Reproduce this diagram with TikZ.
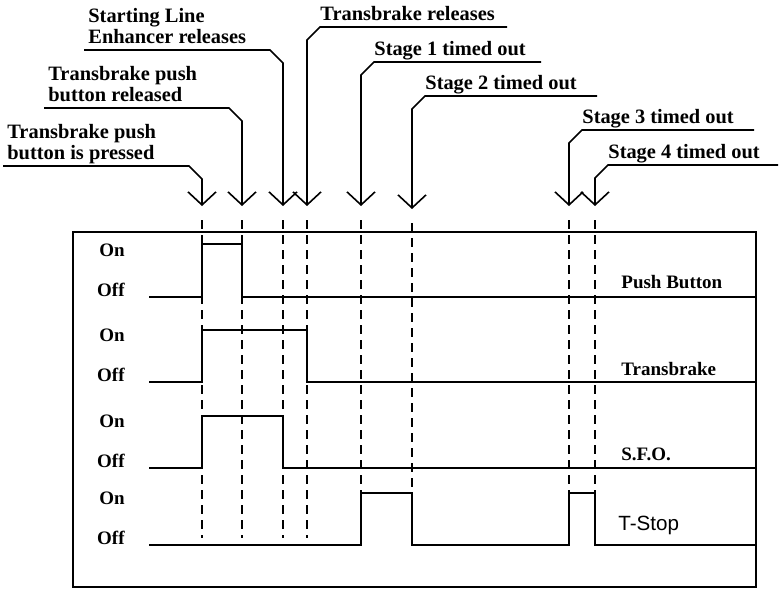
\documentclass[tikz,border=0pt]{standalone}
\usepackage{fontspec}
\setmainfont{Liberation Serif}
\setsansfont{Liberation Sans}
\usetikzlibrary{arrows.meta,calc}

\begin{document}
\begin{tikzpicture}[x=0.5pt,y=-0.5pt,
    event/.style = {font=\fontsize{10.2}{10.5}\selectfont\bfseries,align=left,inner sep=0pt,anchor=south west},
    leader/.style = {line width=0.8pt,-{Straight Barb[length=6.5pt,width=14pt]}},
    guide/.style = {line width=1pt,dash pattern=on 4.5pt off 3pt},
    trace/.style = {line width=1pt},
    level/.style = {font=\fontsize{9.5}{10}\selectfont\bfseries,anchor=base east,inner sep=0pt},
    signame/.style = {font=\fontsize{9.5}{10}\selectfont\bfseries,anchor=base west,inner sep=0pt}]

        \useasboundingbox (0,0) rectangle (780,589);

        % Arrow tips of the events
        \coordinate (e1) at (202,206);
        \coordinate (e2) at (242,206);
        \coordinate (e3) at (283,206);
        \coordinate (e4) at (307,206);
        \coordinate (e5) at (361,206);
        \coordinate (e6) at (412,209);
        \coordinate (e7) at (569,206);
        \coordinate (e8) at (595,206);
        \coordinate (lowA) at (0,538);
        \coordinate (lowB) at (0,493);

        % Event labels, left side
        \node[event] (t1) at (7,166) {Transbrake push\\button is pressed\strut};
        \node[event] (t2) at (48,108) {Transbrake push\\button released\strut};
        \node[event] (t3) at (88,50) {Starting Line\\Enhancer releases\strut};

        % Event labels, right side
        \node[event] (t4) at (320,27) {Transbrake releases\strut};
        \node[event] (t5) at (374,62) {Stage 1 timed out\strut};
        \node[event] (t6) at (425,96) {Stage 2 timed out\strut};
        \node[event] (t7) at (582,130) {Stage 3 timed out\strut};
        \node[event] (t8) at (608,165) {Stage 4 timed out\strut};

        % Leaders
        \foreach \i in {1,2,3}
            \draw[leader] ([xshift=-2pt]t\i.south west) -- ($(e\i |- t\i.south west)+(-13,0)$) -- ++(13,13) -- (e\i);
        \foreach \i/\r in {4/6pt,5/7.5pt,6/10pt,7/10pt,8/9pt}
            \draw[leader] ([xshift=\r]t\i.south east) -- (t\i.south west) -- ++(-13,13) -- (e\i);

        % Dashed guides
        \foreach \e in {e1,e2,e3,e4}
            \draw[guide] ([yshift=-7pt]\e) -- (\e |- lowA);
        \foreach \e in {e5,e6,e7,e8}
            \draw[guide] ([yshift=-7pt]\e) -- (\e |- lowB);

        % Frame
        \draw[line width=1pt] (73,232) rectangle (756,587);

        % On / Off levels
        \foreach \y/\n in {297/1,382/2,468/3,545/4} {
            \node[level] (on\n) at (125,\y-41) {On};
            \node[level] (off\n) at (125,\y-1) {Off};
        }

        % Push Button
        \draw[trace] (149,297) -- (202,297) -- (202,244) -- (242,244) -- (242,297) -- (756,297);
        \node[signame] (pb) at (621,288) {Push Button};

        % Transbrake
        \draw[trace] (149,382) -- (202,382) -- (202,330) -- (307,330) -- (307,382) -- (756,382);
        \node[signame] (tb) at (621,375) {Transbrake};

        % S.F.O.
        \draw[trace] (149,468) -- (202,468) -- (202,416) -- (283,416) -- (283,468) -- (756,468);
        \node[signame] (sfo) at (621,460) {S.F.O.};

        % T-Stop
        \draw[trace] (149,545) -- (361,545) -- (361,493) -- (412,493) -- (412,545) -- (569,545)
            -- (569,493) -- (595,493) -- (595,545) -- (756,545);
        \node[signame,font=\fontsize{10.3}{11}\selectfont\sffamily] (ts) at (618,530) {T-Stop};

    \end{tikzpicture}
\end{document}
